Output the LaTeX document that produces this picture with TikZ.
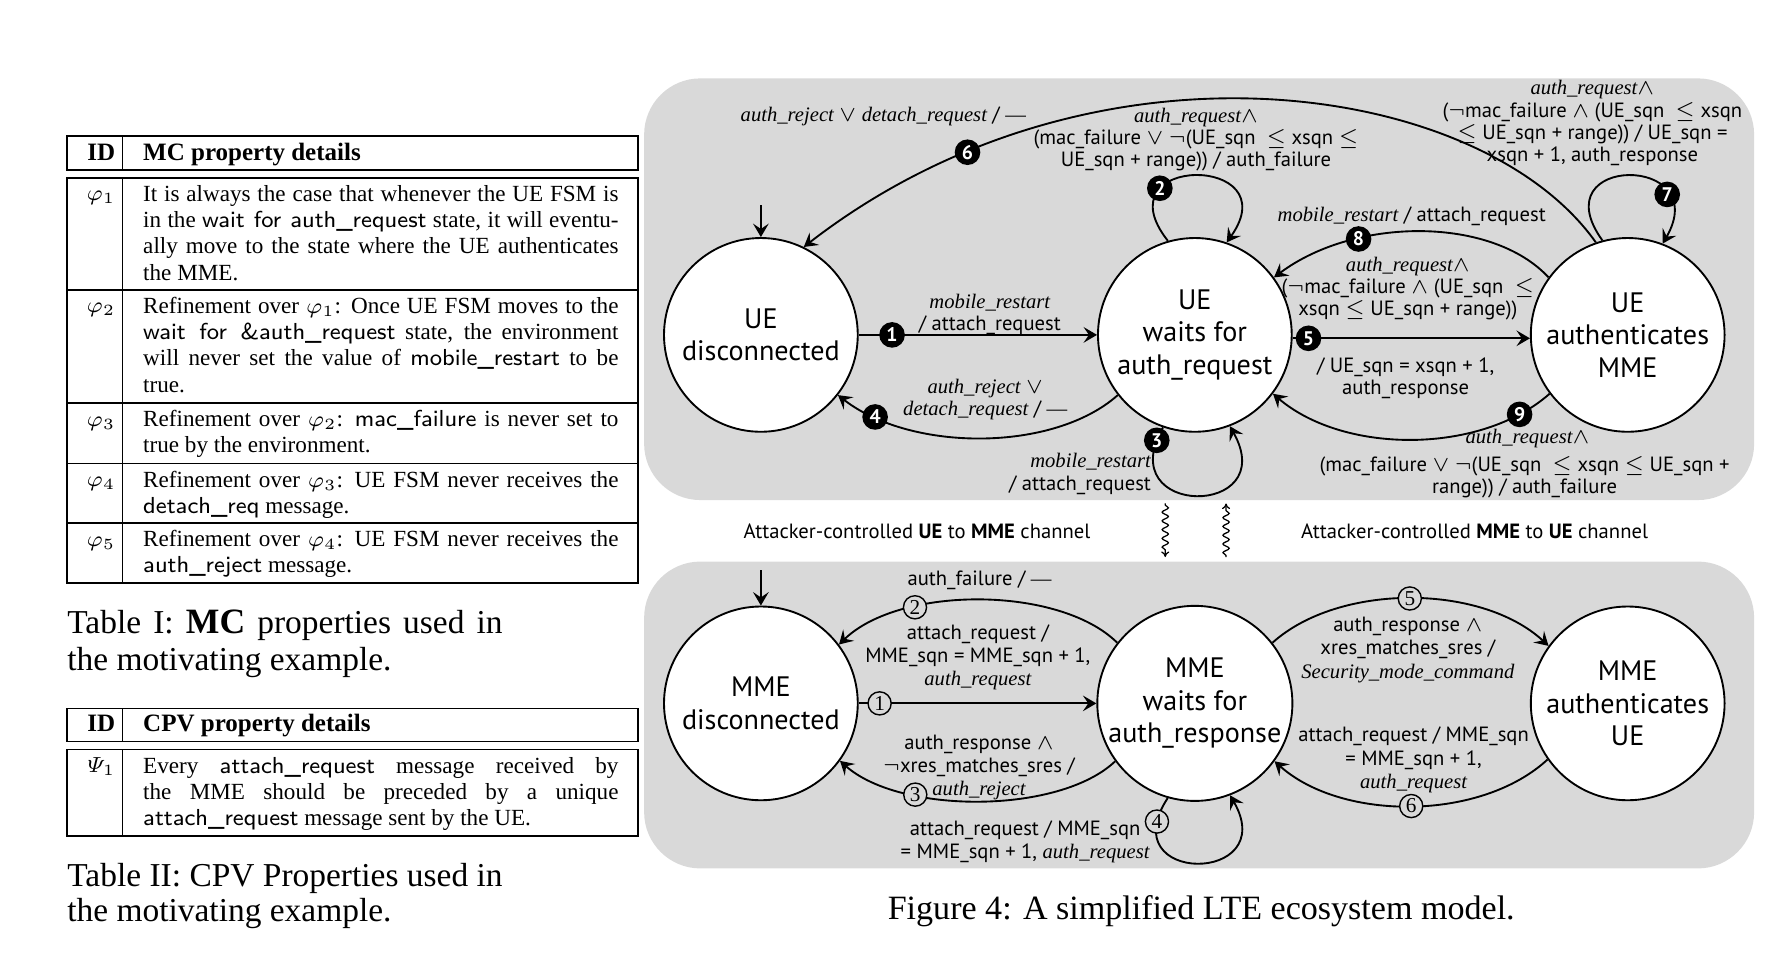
\documentclass[tikz,border=0pt]{standalone}
\usepackage{fontspec}
\setmainfont{Liberation Serif}
\newfontfamily\dfont{PT Sans}
\usetikzlibrary{arrows.meta,decorations.pathmorphing}
\definecolor{boxgray}{RGB}{217,217,217}
\newcommand\ii[1]{{\rmfamily\itshape #1}}
\newcommand\ldash{{\rmfamily —}}
\tikzset{
 fsm/.style={circle, draw, fill=white, line width=0.6pt, minimum size=62pt, inner sep=0pt, align=center, font=\dfont\fontsize{9}{10.4}\selectfont},
 lbl/.style={align=center, inner sep=0pt, font=\dfont\fontsize{6.6}{7.15}\selectfont},
 lblb/.style={align=center, inner sep=0pt, font=\dfont\fontsize{6.6}{7.45}\selectfont},
 tr/.style={line width=0.6pt, -{Stealth[length=4.3pt,width=5pt,inset=1.7pt]}},
 badge/.style={circle, fill=black, text=white, inner sep=0pt, minimum size=8.2pt, font=\dfont\bfseries\fontsize{6.3}{6.3}\selectfont},
 cbadge/.style={circle, draw, fill=boxgray, line width=0.45pt, inner sep=0pt, minimum size=7.4pt, font=\rmfamily\fontsize{6.8}{6.8}\selectfont},
 panel/.style={fill=boxgray, rounded corners=18pt},
 tline/.style={line width=0.55pt},
 rowtxt/.style={anchor=north west, inner sep=0pt, text width=152.1pt, align=justify, font=\fontsize{7.4}{8.4}\selectfont},
 idtxt/.style={anchor=base east, inner sep=0pt, font=\fontsize{7.4}{8.4}\selectfont},
 headtxt/.style={inner sep=0pt, font=\bfseries\fontsize{8}{9.6}\selectfont},
 captxt/.style={anchor=base west, inner sep=0pt, font=\fontsize{10.7}{12}\selectfont},
 wavy/.style={decorate, decoration={snake, amplitude=1pt, segment length=2.8pt, pre length=0.5pt, post length=1.8pt}, line width=0.4pt, -{To[length=1.8pt,width=2.6pt]}},
 init/.style={line width=0.6pt, -{Stealth[length=4.3pt,width=5pt,inset=1.7pt]}},
}
\begin{document}
\begin{tikzpicture}[x=0.3645pt,y=-0.3645pt]
\useasboundingbox (0,0) rectangle (1568,836);

% ---------- Table I ----------
\draw[tline] (58.6,119.4) rectangle (560,149.3);
\draw[tline] (107.5,119.4) -- (107.5,149.3);
\node[headtxt, anchor=base east] (h1a) at (101.7,141) {ID};
\node[headtxt, anchor=base west] (h1b) at (125.2,141) {MC property details};
\draw[tline] (58.6,156) rectangle (560,511.6);
\draw[tline] (107.5,156) -- (107.5,511.6);
\foreach \yy in {254.6,354.1,406.8,458.9} \draw[tline] (58.6,\yy) -- (560,\yy);

\node[idtxt] (p1) at (101.7,176.2) {$\varphi_1$};
\node[rowtxt] (r1) at (125.2,160.1) {\strut It is always the case that whenever the UE FSM is\linebreak in the \textsf{wait for auth\_request} state, it will eventu-\linebreak ally move to the state where the UE authenticates\linebreak the MME.};
\node[idtxt] (p2) at (101.7,274.5) {$\varphi_2$};
\node[rowtxt] (r2) at (125.2,258.4) {\strut Refinement over $\varphi_1$: Once UE FSM moves to the\linebreak \textsf{wait for \&auth\_request} state, the environment\linebreak will never set the value of \textsf{mobile\_restart} to be\linebreak true.};
\node[idtxt] (p3) at (101.7,374) {$\varphi_3$};
\node[rowtxt] (r3) at (125.2,357.9) {\strut Refinement over $\varphi_2$: \textsf{mac\_failure} is never set to\linebreak true by the environment.};
\node[idtxt] (p4) at (101.7,427.3) {$\varphi_4$};
\node[rowtxt] (r4) at (125.2,411.2) {\strut Refinement over $\varphi_3$: UE FSM never receives the\linebreak \textsf{detach\_req} message.};
\node[idtxt] (p5) at (101.7,479.4) {$\varphi_5$};
\node[rowtxt] (r5) at (125.2,463.3) {\strut Refinement over $\varphi_4$: UE FSM never receives the\linebreak \textsf{auth\_reject} message.};

\node[captxt] (cap1a) at (58.6,556) {\makebox[139.3pt][s]{Table I: {\fontsize{11.4}{12}\selectfont\bfseries MC} properties used in}};
\node[captxt] (cap1b) at (58.6,588.2) {the motivating example.};

% ---------- Table II ----------
\draw[tline] (58.6,622) rectangle (560,651);
\draw[tline] (107.5,622) -- (107.5,651);
\node[headtxt, anchor=base east] (h2a) at (101.7,642.4) {ID};
\node[headtxt, anchor=base west] (h2b) at (125.2,642.4) {CPV property details};
\draw[tline] (58.6,657.9) rectangle (560,734);
\draw[tline] (107.5,657.9) -- (107.5,734);
\node[idtxt] (q1) at (101.7,678.4) {$\mathnormal{\Psi}_1$};
\node[rowtxt] (s1) at (125.2,662.3) {\strut Every \textsf{attach\_request} message received by\linebreak the MME should be preceded by a unique\linebreak \textsf{attach\_request} message sent by the UE.};

\node[captxt] (cap2a) at (58.6,778.5) {\makebox[139.3pt][s]{Table II: CPV Properties used in}};
\node[captxt] (cap2b) at (58.6,809.2) {the motivating example.};

% ---------- Figure ----------
\fill[panel] (565.5,68.8) rectangle (1540,439);
\fill[panel] (565.5,493) rectangle (1540,762.4);

\node[fsm] (d1) at (668,294) {UE\\disconnected};
\node[fsm] (w1) at (1049,294) {UE\\waits for\\auth\_request};
\node[fsm] (a1) at (1429,294) {UE\\authenticates\\MME};
\node[fsm] (m1) at (668,617.5) {MME\\disconnected};
\node[fsm] (m2) at (1049,617.5) {MME\\waits for\\auth\_response};
\node[fsm] (m3) at (1429,617.5) {MME\\authenticates\\UE};

\coordinate (i1) at (668,180);
\draw[init] (i1) -- (d1.north);
\coordinate (i2) at (668,500.5);
\draw[init] (i2) -- (m1.north);

% upper transitions
\draw[tr] (d1.east) -- node[badge,pos=0.14] (b1) {1} (w1.west);
\draw[tr] (w1.218) .. controls (925,397) and (800,397) .. node[badge,pos=0.85] (b4) {4} (d1.322);
\draw[tr] (a1.109) .. controls (1300,70) and (960,20) .. node[badge,pos=0.82] (b6) {6} (d1.64);
\draw[tr] (w1.106) .. controls (965,135) and (1132,135) .. node[badge,pos=0.28] (b2) {2} (w1.71);
\draw[tr] (w1.251) .. controls (975,455) and (1125,455) .. node[badge,pos=0.05] (b3) {3} (w1.291);
\draw[tr] (w1.358) -- node[badge,pos=0.067] (b5) {5} (a1.182);
\draw[tr] (a1.144) .. controls (1310,190) and (1190,190) .. node[badge,pos=0.7] (b8) {8} (w1.36);
\draw[tr] (a1.217) .. controls (1300,399) and (1180,399) .. node[badge,pos=0.13] (b9) {9} (w1.323);
\draw[tr] (a1.105) .. controls (1352,135) and (1505,135) .. node[badge,pos=0.76] (b7) {7} (a1.69);

% lower transitions
\draw[tr] (m1.east) -- node[cbadge,pos=0.088] (c1) {1} (m2.west);
\draw[tr] (m2.142) .. controls (930,514) and (790,514) .. node[cbadge,pos=0.7] (c2) {2} (m1.37);
\draw[tr] (m2.216) .. controls (930,715) and (790,715) .. node[cbadge,pos=0.7] (c3) {3} (m1.324);
\draw[tr] (m2.254) .. controls (975,777) and (1125,777) .. node[cbadge,pos=0.1] (c4) {4} (m2.291);
\draw[tr] (m2.38) .. controls (1175,512) and (1300,512) .. node[cbadge,pos=0.5] (c5) {5} (m3.144);
\draw[tr] (m3.215) .. controls (1300,721) and (1178,721) .. node[cbadge,pos=0.5] (c6) {6} (m2.324);

% upper labels
\node[lbl] (t6) at (775.5,102.4) {\ii{auth\_reject} $\vee$ \ii{detach\_request} / \ldash};
\node[lbl] (t2) at (1050,122.6) {\ii{auth\_request}$\wedge$\\(mac\_failure $\vee$ $\neg$(UE\_sqn~ $\leq$ xsqn $\leq$\\UE\_sqn + range)) / auth\_failure};
\node[lbl] (t7) at (1398,108.2) {\ii{auth\_request}$\wedge$\\($\neg$mac\_failure $\wedge$ (UE\_sqn~ $\leq$ xsqn\\$\leq$ UE\_sqn + range)) / UE\_sqn =\\xsqn + 1, auth\_response};
\node[lbl] (t1) at (869,276) {\ii{mobile\_restart}\\/ attach\_request};
\node[lbl] (t4) at (865,351) {\ii{auth\_reject} $\vee$\\\ii{detach\_request} / \ldash};
\node[lbl, anchor=east, align=right] (t3) at (1011,416) {\ii{mobile\_restart}\\/ attach\_request};
\node[lbl] (t8) at (1239.4,190.2) {\ii{mobile\_restart} / attach\_request};
\node[lbl] (t5a) at (1236,253.4) {\ii{auth\_request}$\wedge$\\($\neg$mac\_failure $\wedge$ (UE\_sqn~ $\leq$\\xsqn $\leq$ UE\_sqn + range))};
\node[lbl] (t5b) at (1234,331.8) {/ UE\_sqn = xsqn + 1,\\auth\_response};
\node[lbl] (t9a) at (1341,384.8) {\ii{auth\_request}$\wedge$};
\node[lbl] (t9b) at (1338.5,419.2) {(mac\_failure $\vee$ $\neg$(UE\_sqn~ $\leq$ xsqn $\leq$ UE\_sqn +\\range)) / auth\_failure};

% lower labels
\node[lblb] (u2) at (860,509) {auth\_failure / \ldash};
\node[lblb] (u1) at (858.5,577) {attach\_request /\\MME\_sqn = MME\_sqn + 1,\\\ii{auth\_request}};
\node[lblb] (u3) at (859.5,673.7) {auth\_response $\wedge$\\$\neg$xres\_matches\_sres /\\\ii{auth\_reject}};
\node[lblb] (u4) at (900,739) {attach\_request / MME\_sqn\\= MME\_sqn + 1, \ii{auth\_request}};
\node[lblb] (u5) at (1236,570.5) {auth\_response $\wedge$\\xres\_matches\_sres /\\\ii{Security\_mode\_command}};
\node[lblb] (u6) at (1241,667.3) {attach\_request / MME\_sqn\\= MME\_sqn + 1,\\\ii{auth\_request}};

% channels
\node[lbl] (at1) at (805,466.8) {Attacker-controlled \textbf{UE} to \textbf{MME} channel};
\node[lbl] (at2) at (1294.6,466.8) {Attacker-controlled \textbf{MME} to \textbf{UE} channel};
\coordinate (wa1) at (1023,442);
\coordinate (wa2) at (1023,489);
\draw[wavy] (wa1) -- (wa2);
\coordinate (wb1) at (1076.4,489);
\coordinate (wb2) at (1076.4,442);
\draw[wavy] (wb1) -- (wb2);

\node[anchor=base, inner sep=0pt, font=\fontsize{10.9}{13}\selectfont] (figcap) at (1054.6,807) {Figure 4: A simplified LTE ecosystem model.};
\end{tikzpicture}
\end{document}
